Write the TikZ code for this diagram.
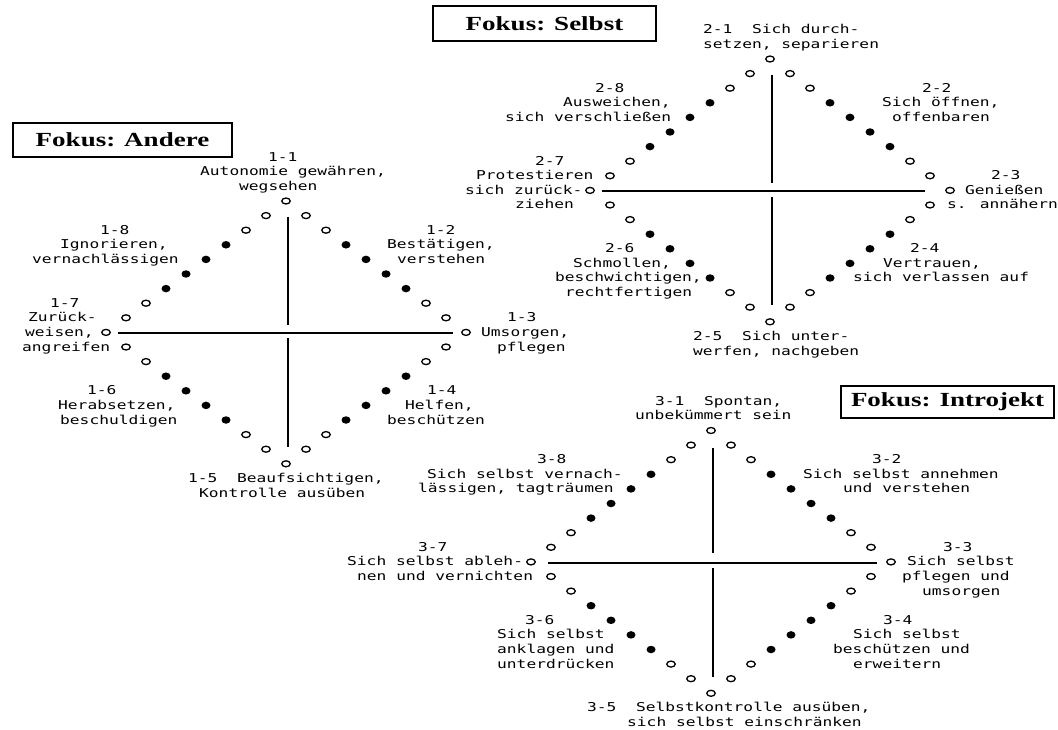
\documentclass[tikz,border=0pt]{standalone}
\usepackage{fontspec}
\usetikzlibrary{shapes.geometric}
\newfontfamily\monof[FakeStretch=1.33]{DejaVu Sans Mono}
\newfontfamily\serf[FakeStretch=1.35]{Liberation Serif}
\newcommand\lab[5]{\node[lbl] (#1) at (#3,{#2+14.6*(#4)}) {#5};}
\newcommand\dpts[3]{%
  \foreach \r in {0,...,18}{%
    \pgfmathtruncatemacro\off{20*min(\r,18-\r)}%
    \pgfmathtruncatemacro\fl{or(and(\r>2,\r<7),and(\r>11,\r<16))}%
    \ifnum\fl=1 \tikzset{cur/.style={fd}}\else\tikzset{cur/.style={od}}\fi
    \node[cur] (#1-\r-l) at ({#2-\off},{#3+14.6*\r}) {};
    \ifnum\off>0 \node[cur] (#1-\r-r) at ({#2+\off},{#3+14.6*\r}) {};\fi
  }}
\begin{document}
\begin{tikzpicture}[x=1pt,y=-1pt,
  lbl/.style={anchor=base west, inner sep=0pt, font=\monof\fontsize{12.2}{14.6}\selectfont},
  od/.style={ellipse, draw, line width=1.3pt, minimum width=8.5pt, minimum height=6pt, inner sep=0pt},
  fd/.style={ellipse, fill, minimum width=9pt, minimum height=7.5pt, inner sep=0pt},
  axis/.style={line width=1.2pt},
  fbox/.style={draw, line width=2.2pt, inner sep=0pt, font=\serf\bfseries\fontsize{20}{24}\selectfont}]
\fill[white] (0,0) rectangle (1058,730);
\useasboundingbox (0,0) rectangle (1058,730);

% ---------- Fokus boxes
\node[fbox, minimum width=219pt, minimum height=34pt] (fa) at (122.5,140) {Fokus: Andere};
\node[fbox, minimum width=223pt, minimum height=35pt] (fs) at (544.5,23.5) {Fokus: Selbst};
\node[fbox, minimum width=213pt, minimum height=32pt] (fi) at (947.5,402) {Fokus: Introjekt};

% ---------- Diamond 1 (Andere)
\dpts{a}{286}{201}
\coordinate (a-v1) at (288,217); \coordinate (a-v2) at (288,325);
\coordinate (a-v3) at (288,338); \coordinate (a-v4) at (288,447);
\coordinate (a-h1) at (118,333); \coordinate (a-h2) at (453,333);
\draw[axis] (a-v1) -- (a-v2); \draw[axis] (a-v3) -- (a-v4); \draw[axis] (a-h1) -- (a-h2);
\lab{n11a}{205}{268}{-3}{1-1}
\lab{n11b}{205}{200}{-2}{Autonomie gewähren,}
\lab{n11c}{205}{239}{-1}{wegsehen}
\lab{n12a}{205}{426}{2}{1-2}
\lab{n12b}{205}{387}{3}{Bestätigen,}
\lab{n12c}{205}{397}{4}{verstehen}
\lab{n13a}{205}{507}{8}{1-3}
\lab{n13b}{205}{481}{9}{Umsorgen,}
\lab{n13c}{205}{497}{10}{pflegen}
\lab{n14a}{205}{427}{13}{1-4}
\lab{n14b}{205}{405}{14}{Helfen,}
\lab{n14c}{205}{387}{15}{beschützen}
\lab{n15a}{205}{188}{19}{1-5~~Beaufsichtigen,}
\lab{n15b}{205}{199}{20}{Kontrolle ausüben}
\lab{n16a}{205}{87}{13}{1-6}
\lab{n16b}{205}{58}{14}{Herabsetzen,}
\lab{n16c}{205}{60}{15}{beschuldigen}
\lab{n17a}{205}{50}{7}{1-7}
\lab{n17b}{205}{28}{8}{Zurück-}
\lab{n17c}{205}{25}{9}{weisen,}
\lab{n17d}{205}{22}{10}{angreifen}
\lab{n18a}{205}{100}{2}{1-8}
\lab{n18b}{205}{60}{3}{Ignorieren,}
\lab{n18c}{205}{32}{4}{vernachlässigen}

% ---------- Diamond 2 (Selbst)
\dpts{s}{770}{59}
\coordinate (s-v1) at (772,75); \coordinate (s-v2) at (772,183);
\coordinate (s-v3) at (772,197); \coordinate (s-v4) at (772,305);
\coordinate (s-h1) at (602,191); \coordinate (s-h2) at (925,191);
\draw[axis] (s-v1) -- (s-v2); \draw[axis] (s-v3) -- (s-v4); \draw[axis] (s-h1) -- (s-h2);
\lab{n21a}{63}{703}{-2}{2-1~~Sich durch-}
\lab{n21b}{63}{703}{-1}{setzen, separieren}
\lab{n22a}{63}{922}{2}{2-2}
\lab{n22b}{63}{882}{3}{Sich öffnen,}
\lab{n22c}{63}{892}{4}{offenbaren}
\lab{n23a}{63}{991}{8}{2-3}
\lab{n23b}{63}{965}{9}{Genießen}
\lab{n23c}{63}{947}{10}{s. annähern}
\lab{n24a}{63}{910}{13}{2-4}
\lab{n24b}{63}{883}{14}{Vertrauen,}
\lab{n24c}{63}{853}{15}{sich verlassen auf}
\lab{n25a}{63}{693}{19}{2-5~~Sich unter-}
\lab{n25b}{63}{693}{20}{werfen, nachgeben}
\lab{n26a}{63}{605}{13}{2-6}
\lab{n26b}{63}{573}{14}{Schmollen,}
\lab{n26c}{63}{555}{15}{beschwichtigen,}
\lab{n26d}{63}{565}{16}{rechtfertigen}
\lab{n27a}{63}{535}{7}{2-7}
\lab{n27b}{63}{476}{8}{Protestieren}
\lab{n27c}{63}{465}{9}{sich zurück-}
\lab{n27d}{63}{515}{10}{ziehen}
\lab{n28a}{63}{595}{2}{2-8}
\lab{n28b}{63}{563}{3}{Ausweichen,}
\lab{n28c}{63}{505}{4}{sich verschließen}

% ---------- Diamond 3 (Introjekt)
\dpts{i}{711}{430.5}
\coordinate (i-v1) at (713,448); \coordinate (i-v2) at (713,553);
\coordinate (i-v3) at (713,568); \coordinate (i-v4) at (713,677);
\coordinate (i-h1) at (548,563); \coordinate (i-h2) at (877,563);
\draw[axis] (i-v1) -- (i-v2); \draw[axis] (i-v3) -- (i-v4); \draw[axis] (i-h1) -- (i-h2);
\lab{n31a}{434.5}{655}{-2}{3-1~~Spontan,}
\lab{n31b}{434.5}{635}{-1}{unbekümmert sein}
\lab{n32a}{434.5}{872}{2}{3-2}
\lab{n32b}{434.5}{803}{3}{Sich selbst annehmen}
\lab{n32c}{434.5}{843}{4}{und verstehen}
\lab{n33a}{434.5}{943}{8}{3-3}
\lab{n33b}{434.5}{907}{9}{Sich selbst}
\lab{n33c}{434.5}{902}{10}{pflegen und}
\lab{n33d}{434.5}{922}{11}{umsorgen}
\lab{n34a}{434.5}{883}{13}{3-4}
\lab{n34b}{434.5}{853}{14}{Sich selbst}
\lab{n34c}{434.5}{833}{15}{beschützen und}
\lab{n34d}{434.5}{853}{16}{erweitern}
\lab{n35a}{434.5}{587}{19}{3-5~~Selbstkontrolle ausüben,}
\lab{n35b}{434.5}{627}{20}{sich selbst einschränken}
\lab{n36a}{434.5}{525}{13}{3-6}
\lab{n36b}{434.5}{497}{14}{Sich selbst}
\lab{n36c}{434.5}{497}{15}{anklagen und}
\lab{n36d}{434.5}{497}{16}{unterdrücken}
\lab{n37a}{434.5}{418}{8}{3-7}
\lab{n37b}{434.5}{347}{9}{Sich selbst ableh-}
\lab{n37c}{434.5}{357}{10}{nen und vernichten}
\lab{n38a}{434.5}{537}{2}{3-8}
\lab{n38b}{434.5}{427}{3}{Sich selbst vernach-}
\lab{n38c}{434.5}{418}{4}{lässigen, tagträumen}
\end{tikzpicture}
\end{document}
